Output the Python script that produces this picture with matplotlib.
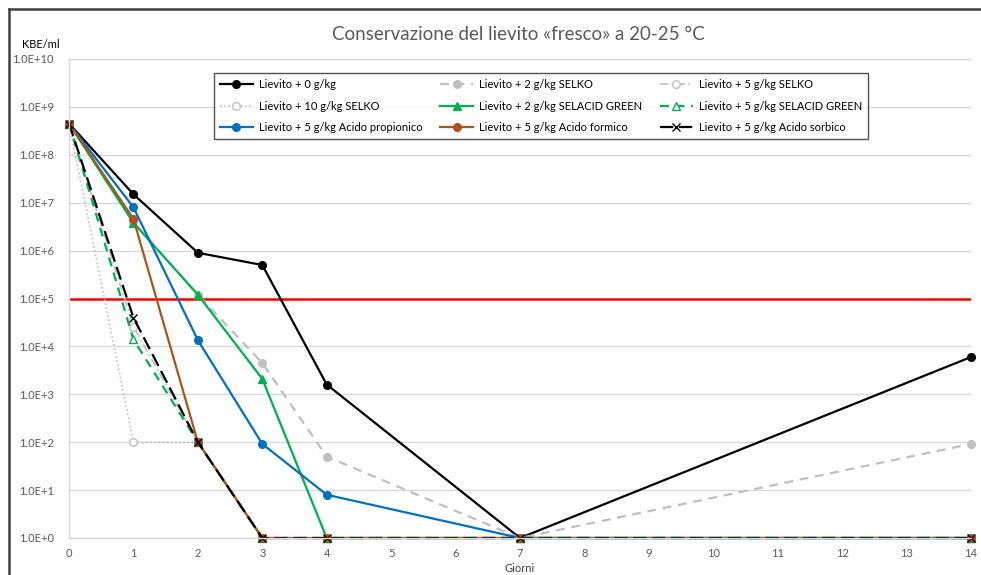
import numpy as np
import matplotlib
matplotlib.use("Agg")
import matplotlib.pyplot as plt
from matplotlib.lines import Line2D
from matplotlib.ticker import FuncFormatter, FixedLocator

plt.rcParams['font.family'] = ['Lato', 'DejaVu Sans']

# Giorni di conservazione
giorni = [0, 1, 2, 3, 4, 7, 14]

# KBE/ml
lievito_0 = [4.5e8, 1.5e7, 9e5, 5e5, 1.6e3, 1, 6e3]
selko_2 = [4.5e8, 4e6, 1.2e5, 4.5e3, 50, 1, 92]
selko_5 = [4.5e8, 2.6e4, 100, 1, 1, 1, 1]
selko_10 = [4.5e8, 100, 100, 1, 1, 1, 1]
selacid_2 = [4.5e8, 3.8e6, 1.2e5, 2.1e3, 1, 1, 1]
selacid_5 = [4.5e8, 1.4e4, 100, 1, 1, 1, 1]
propionico_5 = [4.5e8, 8e6, 1.35e4, 92, 8, 1, 1]
formico_5 = [4.5e8, 4.6e6, 100, 1, 1, 1, 1]
sorbico_5 = [4.5e8, 4e4, 100, 1, 1, 1, 1]

etichette = ["Lievito + 0 g/kg", "Lievito + 2 g/kg SELKO", "Lievito + 5 g/kg SELKO",
             "Lievito + 10 g/kg SELKO", "Lievito + 2 g/kg SELACID GREEN",
             "Lievito + 5 g/kg SELACID GREEN", "Lievito + 5 g/kg Acido propionico",
             "Lievito + 5 g/kg Acido formico", "Lievito + 5 g/kg Acido sorbico"]

limite = 1e5

fig = plt.figure(figsize=(9.81, 5.75), dpi=100)
ax = fig.add_axes([69/981, 1 - 538/575, 902/981, 479/575])

grigio = '#BFBFBF'
verde = '#00B050'
blu = '#0070C0'
marrone = '#A9541A'
lw = 1.6
ms = 5.5

h = []
h += ax.plot(giorni, lievito_0, color='black', lw=lw, marker='o', ms=ms)
h += ax.plot(giorni, selko_2, color=grigio, lw=lw, dashes=(4, 3), marker='o', ms=ms)
h += ax.plot(giorni, selko_5, color=grigio, lw=1.2, dashes=(5, 2, 1, 2), marker='o', ms=ms,
             mfc='white', mec=grigio)
h += ax.plot(giorni, selko_10, color=grigio, lw=1.2, dashes=(1, 1.5), marker='o', ms=ms,
             mfc='white', mec=grigio)
h += ax.plot(giorni, selacid_2, color=verde, lw=lw, marker='^', ms=ms)
h += ax.plot(giorni, selacid_5, color=verde, lw=lw, dashes=(4, 3), marker='^', ms=ms,
             mfc='white', mec=verde)
h += ax.plot(giorni, propionico_5, color=blu, lw=lw, marker='o', ms=ms)
h += ax.plot(giorni, formico_5, color=marrone, lw=lw, marker='o', ms=ms)
h += ax.plot(giorni, sorbico_5, color='black', lw=lw, dashes=(6, 2.5), marker='x', ms=ms)
for linea in h:
    linea.set_clip_on(False)

ax.axhline(limite, color='#FF0000', lw=1.8, zorder=1)

ax.set_yscale('log')
ax.set_ylim(1, 1e10)
ax.set_xlim(0, 14)
ax.xaxis.set_major_locator(FixedLocator(range(15)))
ax.yaxis.set_major_locator(FixedLocator([10.0**k for k in range(11)]))
ax.yaxis.set_minor_locator(FixedLocator([]))
ax.yaxis.set_major_formatter(FuncFormatter(lambda v, p: "1.0E+%d" % round(np.log10(v))))
ax.tick_params(length=0, labelsize=8, colors='#595959')
ax.tick_params(axis='y', pad=11)
ax.tick_params(axis='x', pad=7)
ax.grid(axis='y', color='#D9D9D9', lw=1)
ax.set_axisbelow(True)
for s in ['top', 'right']:
    ax.spines[s].set_visible(False)
for s in ['left', 'bottom']:
    ax.spines[s].set_color('#D9D9D9')
    ax.spines[s].set_linewidth(1)

ax.set_xlabel("Giorni", fontsize=8, color='#404040', labelpad=3)
fig.text(41/981, 1 - 44/575, "KBE/ml", fontsize=8, color='black', ha='center', va='center')
fig.text(518/981, 1 - 34/575, "Conservazione del lievito «fresco» a 20-25 °C",
         fontsize=13.5, color='#595959', ha='center', va='center')

# legenda riga per riga come in Excel
ordine = [0, 3, 6, 1, 4, 7, 2, 5, 8]
leg = ax.legend([h[i] for i in ordine], [etichette[i] for i in ordine], ncol=3,
                loc='upper center', bbox_to_anchor=(0.523, 0.971), borderaxespad=0,
                fontsize=8, frameon=True, fancybox=False, edgecolor='#262626',
                handlelength=3, labelspacing=0.95, columnspacing=1.6, borderpad=0.55,
                handletextpad=0.5)
leg.get_frame().set_linewidth(1)

# cornice della figura
fig.add_artist(Line2D([9/981, 1], [1 - 9/575, 1 - 9/575], color='#404040', lw=1.8))
fig.add_artist(Line2D([9/981, 9/981], [0, 1 - 9/575], color='#404040', lw=1.8))

fig.savefig('out.png', dpi=100)
